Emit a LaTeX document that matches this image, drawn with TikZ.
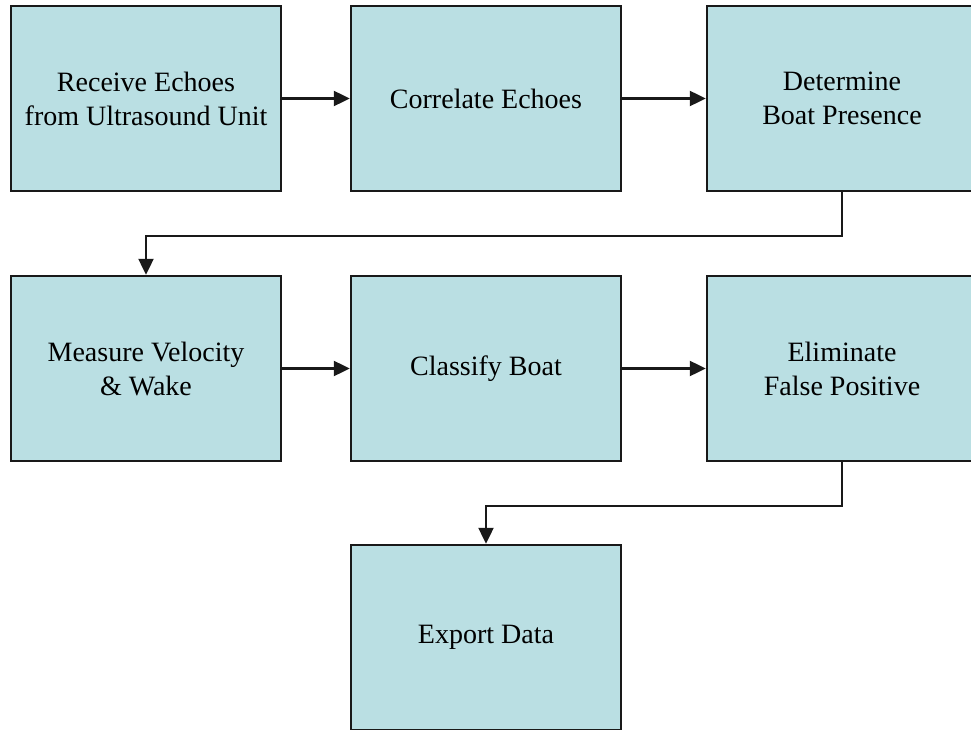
\documentclass[tikz,border=0pt]{standalone}
\usepackage{fontspec}
\setmainfont{Liberation Serif}
\usetikzlibrary{arrows.meta}
\definecolor{boxfill}{RGB}{186,223,227}
\definecolor{inkline}{RGB}{25,25,25}
\tikzset{
  stagebox/.style={draw=inkline, fill=boxfill, line width=2.4pt,
    minimum width=270pt, minimum height=185pt, inner sep=0pt,
    align=center, font=\fontsize{28}{34}\selectfont},
  flow/.style={draw=inkline, line width=2.2pt, -{Triangle[length=16pt,width=15pt]}}
}
\begin{document}
\begin{tikzpicture}[x=1pt,y=-1pt]
  \useasboundingbox (0,0) rectangle (971,730);
  \clip (0,0) rectangle (971,730);
  % first row
  \node[stagebox] (recv) at (146,98.5) {Receive Echoes\\from Ultrasound Unit};
  \node[stagebox] (corr) at (486,98.5) {Correlate Echoes};
  \node[stagebox] (pres) at (842,98.5) {Determine\\Boat Presence};
  % second row
  \node[stagebox] (meas) at (146,368.5) {Measure Velocity\\\& Wake};
  \node[stagebox] (clas) at (486,368.5) {Classify Boat};
  \node[stagebox] (elim) at (842,368.5) {Eliminate\\False Positive};
  % last stage
  \node[stagebox] (expo) at (486,637.5) {Export Data};
  % connectors
  \draw[flow] (recv) -- (corr);
  \draw[flow] (corr) -- (pres);
  \draw[flow] (pres.south) -- ++(0,44) -| (meas.north);
  \draw[flow] (meas) -- (clas);
  \draw[flow] (clas) -- (elim);
  \draw[flow] (elim.south) -- ++(0,44) -| (expo.north);
\end{tikzpicture}
\end{document}
